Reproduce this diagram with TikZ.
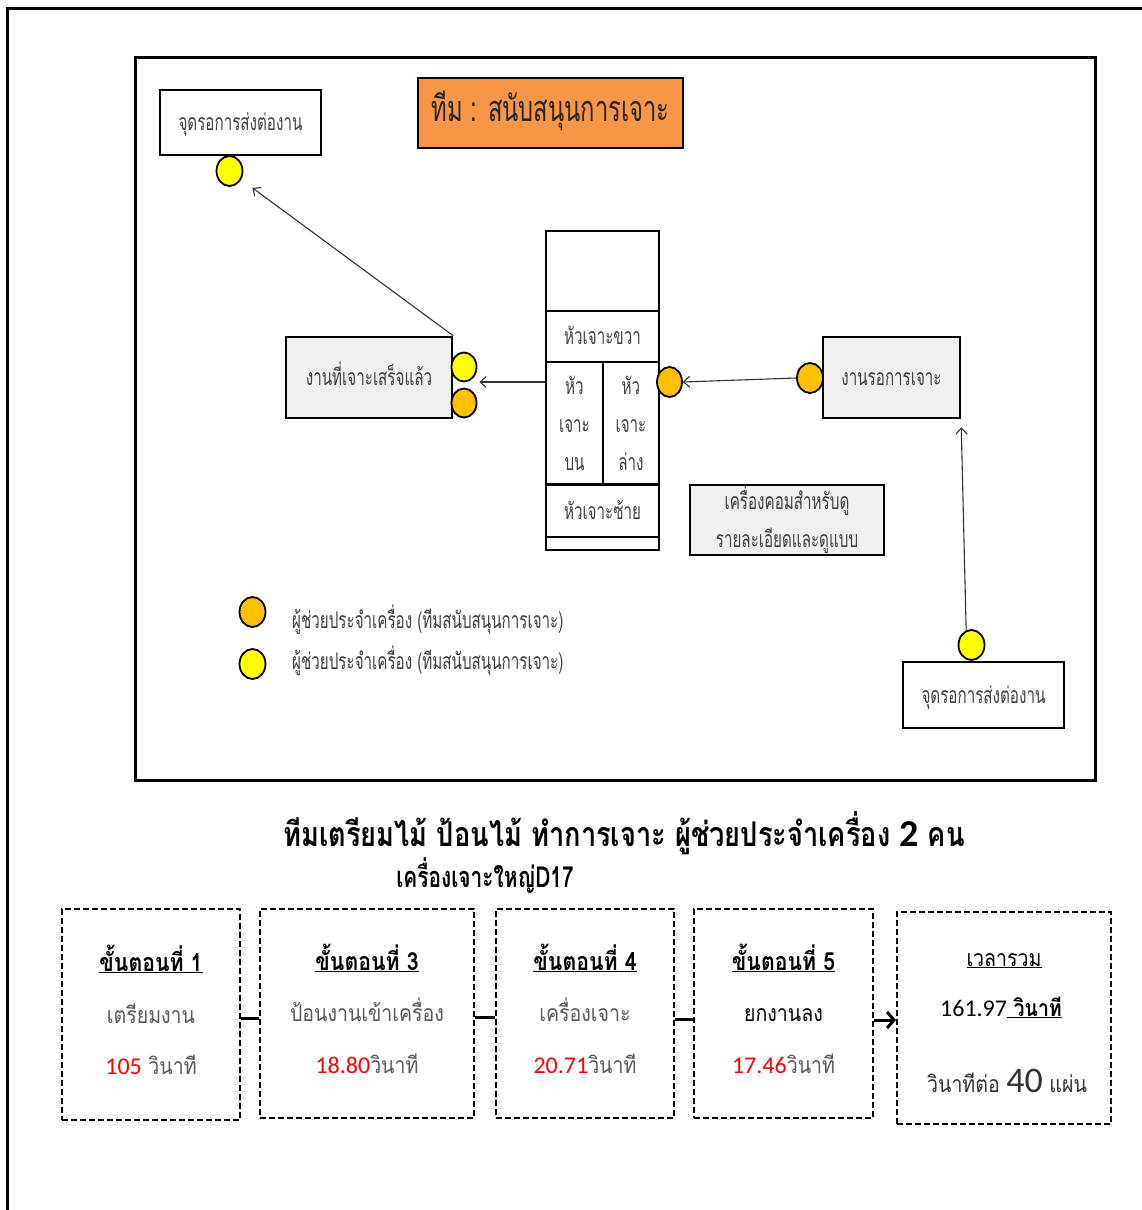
\documentclass[tikz,border=0pt]{standalone}
\usepackage{fontspec}
\usetikzlibrary{shapes.geometric,arrows.meta,calc}
\newfontfamily\thai[Script=Thai]{Loma}
\newfontfamily\thaicond[Script=Thai,FakeStretch=0.66]{Loma}
\newfontfamily\thainarrow[Script=Thai,FakeStretch=0.72]{Loma}
\newfontfamily\thaicap[Script=Thai,FakeStretch=0.8]{Loma}
\newfontfamily\thaitall[Script=Thai,FakeStretch=0.85]{Loma}
\newfontfamily\digits{Carlito}
\definecolor{titleorange}{HTML}{F79646}
\definecolor{dotorange}{HTML}{FFC000}
\definecolor{dotyellow}{HTML}{FFFF00}
\definecolor{boxgray}{HTML}{F0F0F0}
\definecolor{inktext}{HTML}{404040}
\definecolor{midtext}{HTML}{595959}
\definecolor{numred}{HTML}{FF0000}
\tikzset{
  onerow/.style={text height=1.6em, text depth=0pt},
  plainbox/.style={draw, line width=2.5pt, fill=white, inner sep=0pt, text=inktext,
    font=\thaicond\fontsize{23}{26}\selectfont},
  graybox/.style={plainbox, fill=boxgray},
  cell/.style={plainbox, line width=2.2pt},
  dot/.style={ellipse, draw, line width=1.8pt, inner sep=0pt, minimum width=26pt, minimum height=30pt},
  ydot/.style={dot, fill=dotyellow},
  odot/.style={dot, fill=dotorange},
  flow/.style={draw=black!80, line width=1.1pt, -{Straight Barb[length=6pt,width=11pt]}},
  stagebox/.style={draw, line width=2pt, dash pattern=on 6pt off 3pt, inner sep=0pt},
  link/.style={line width=3pt},
  txt/.style={inner sep=0pt, onerow},
  head/.style={txt, font=\thaitall\bfseries\fontsize{25}{28}\selectfont},
  mid/.style={txt, text=midtext, font=\thaitall\fontsize{23}{26}\selectfont},
  legendtext/.style={txt, anchor=west, text=inktext, font=\thaicond\fontsize{23}{26}\selectfont}
}
\begin{document}
\begin{tikzpicture}[x=1pt,y=-1pt]
\useasboundingbox (0,0) rectangle (1142,1210);
\fill[white] (0,0) rectangle (1142,1210);
% page frame (open towards right and bottom)
\draw[line width=3pt] (1142,8) -- (7,8) -- (7,1210);
% diagram frame
\draw[line width=3pt] (135,57) rectangle (1095,780);

% title
\node[draw, line width=2.5pt, fill=titleorange, minimum width=265pt, minimum height=70pt,
  text height=1.75em, text depth=0pt, inner sep=0pt,
  font=\thaicond\fontsize{36}{40}\selectfont, text=black!85] (title) at (550.5,113) {ทีม : สนับสนุนการเจาะ};

% hand-over points
\node[plainbox, onerow, minimum width=161pt, minimum height=65pt] (sendA) at (240.5,122.5) {จุดรอการส่งต่องาน};
\node[ydot] (dotA) at (229.5,171) {};
\node[plainbox, onerow, minimum width=161pt, minimum height=66pt] (sendB) at (983.5,695) {จุดรอการส่งต่องาน};
\node[ydot] (dotB) at (971.5,645) {};

% finished work
\node[graybox, onerow, minimum width=166pt, minimum height=81pt] (done) at (369,377.5) {งานที่เจาะเสร็จแล้ว};
\node[ydot, minimum width=25pt, minimum height=29pt] (doneY) at (464,367) {};
\node[odot, minimum width=25pt, minimum height=29pt] (doneO) at (464,403) {};

% waiting work
\node[graybox, onerow, minimum width=137pt, minimum height=81pt] (wait) at (891.5,377.5) {งานรอการเจาะ};
\node[odot] (waitO) at (810,378) {};

% computer
\node[graybox, minimum width=194pt, minimum height=70pt, align=center,
  font=\thaicond\fontsize{23}{38}\selectfont] (pc) at (787,520) {เครื่องคอมสำหรับดู\\รายละเอียดและดูแบบ};

% drilling machine
\node[cell, minimum width=113pt, minimum height=80pt] (mtop) at (602.5,271) {};
\node[cell, onerow, minimum width=113pt, minimum height=51pt] (mright) at (602.5,336.5) {หัวเจาะขวา};
\node[cell, minimum width=57pt, minimum height=122pt, align=center,
  font=\thaicond\fontsize{23}{38}\selectfont] (mupper) at (574.5,423) {หัว\\เจาะ\\บน};
\node[cell, minimum width=56pt, minimum height=122pt, align=center,
  font=\thaicond\fontsize{23}{38}\selectfont] (mlower) at (631,423) {หัว\\เจาะ\\ล่าง};
\node[cell, onerow, minimum width=113pt, minimum height=52pt] (mleft) at (602.5,511) {หัวเจาะซ้าย};
\node[cell, minimum width=113pt, minimum height=13pt] (mbase) at (602.5,543.5) {};
\node[odot, minimum width=25pt] (machO) at (669.5,382) {};

% flow of work
\draw[flow] (waitO.west) -- (machO.east);
\draw[flow] (mupper.west |- machO.center) -- ($(doneY.east |- machO.center)+(2,0)$);
\draw[flow, shorten >=14pt] (done.north east) -- (dotA);
\draw[flow] (dotB.110) -- ($(wait.south east)+(0,8)$);

% legend
\node[odot] (legO) at (252.5,612) {};
\node[ydot] (legY) at (252.5,664) {};
\node[legendtext] (legOt) at (292,620) {ผู้ช่วยประจำเครื่อง (ทีมสนับสนุนการเจาะ)};
\node[legendtext] (legYt) at (292,661) {ผู้ช่วยประจำเครื่อง (ทีมสนับสนุนการเจาะ)};

% caption
\node[txt, font=\thaicap\bfseries\fontsize{34}{38}\selectfont] (cap) at (624,838)
  {ทีมเตรียมไม้ ป้อนไม้ ทำการเจาะ ผู้ช่วยประจำเครื่อง {\digits\bfseries\fontsize{38}{40}\selectfont 2} คน};
\node[txt, font=\thainarrow\bfseries\fontsize{29}{32}\selectfont] (machname) at (485,879) {เครื่องเจาะใหญ่D17};

% stages
\node[stagebox, minimum width=178pt, minimum height=211pt] (s1) at (151,1014.5) {};
\node[stagebox, minimum width=214pt, minimum height=209pt] (s3) at (367,1013.5) {};
\node[stagebox, minimum width=178pt, minimum height=209pt] (s4) at (585,1013.5) {};
\node[stagebox, minimum width=179pt, minimum height=209pt] (s5) at (783.5,1013.5) {};
\node[stagebox, minimum width=214pt, minimum height=212pt] (tot) at (1004,1018) {};

\draw[link] (s1.east |- 0,1018) -- (s3.west |- 0,1018);
\draw[link] (s3.east |- 0,1017) -- (s4.west |- 0,1017);
\draw[link] (s4.east |- 0,1019) -- (s5.west |- 0,1019);
\draw[link, -{Straight Barb[length=7pt,width=16pt]}] (s5.east |- 0,1020) -- (tot.west |- 0,1020);

\node[head] (s1h) at (151,963) {\underline{ขั้นตอนที่ 1}};
\node[mid] (s1m) at (151,1015) {เตรียมงาน};
\node[mid] (s1t) at (151,1066) {{\digits\fontsize{24}{26}\selectfont\color{numred}105} วินาที};

\node[head] (s3h) at (367,962) {\underline{ขั้นตอนที่ 3}};
\node[mid] (s3m) at (367,1013) {ป้อนงานเข้าเครื่อง};
\node[mid] (s3t) at (367,1065) {{\digits\fontsize{24}{26}\selectfont\color{numred}18.80}วินาที};

\node[head] (s4h) at (585,962) {\underline{ขั้นตอนที่ 4}};
\node[mid] (s4m) at (585,1013) {เครื่องเจาะ};
\node[mid] (s4t) at (585,1065) {{\digits\fontsize{24}{26}\selectfont\color{numred}20.71}วินาที};

\node[head] (s5h) at (783.5,962) {\underline{ขั้นตอนที่ 5}};
\node[mid, text=black] (s5m) at (783.5,1013) {ยกงานลง};
\node[mid] (s5t) at (783.5,1065) {{\digits\fontsize{24}{26}\selectfont\color{numred}17.46}วินาที};

\node[mid, text=black] (toth) at (1004,958) {\underline{เวลารวม}};
\node[mid, text=black] (totv) at (1001,1008) {{\digits\fontsize{24}{26}\selectfont 161.97}\underline{\bfseries\ วินาที}};
\node[mid, text=black!80] (totr) at (1007,1084) {วินาทีต่อ {\digits\fontsize{36}{38}\selectfont 40} แผ่น};
\end{tikzpicture}
\end{document}
